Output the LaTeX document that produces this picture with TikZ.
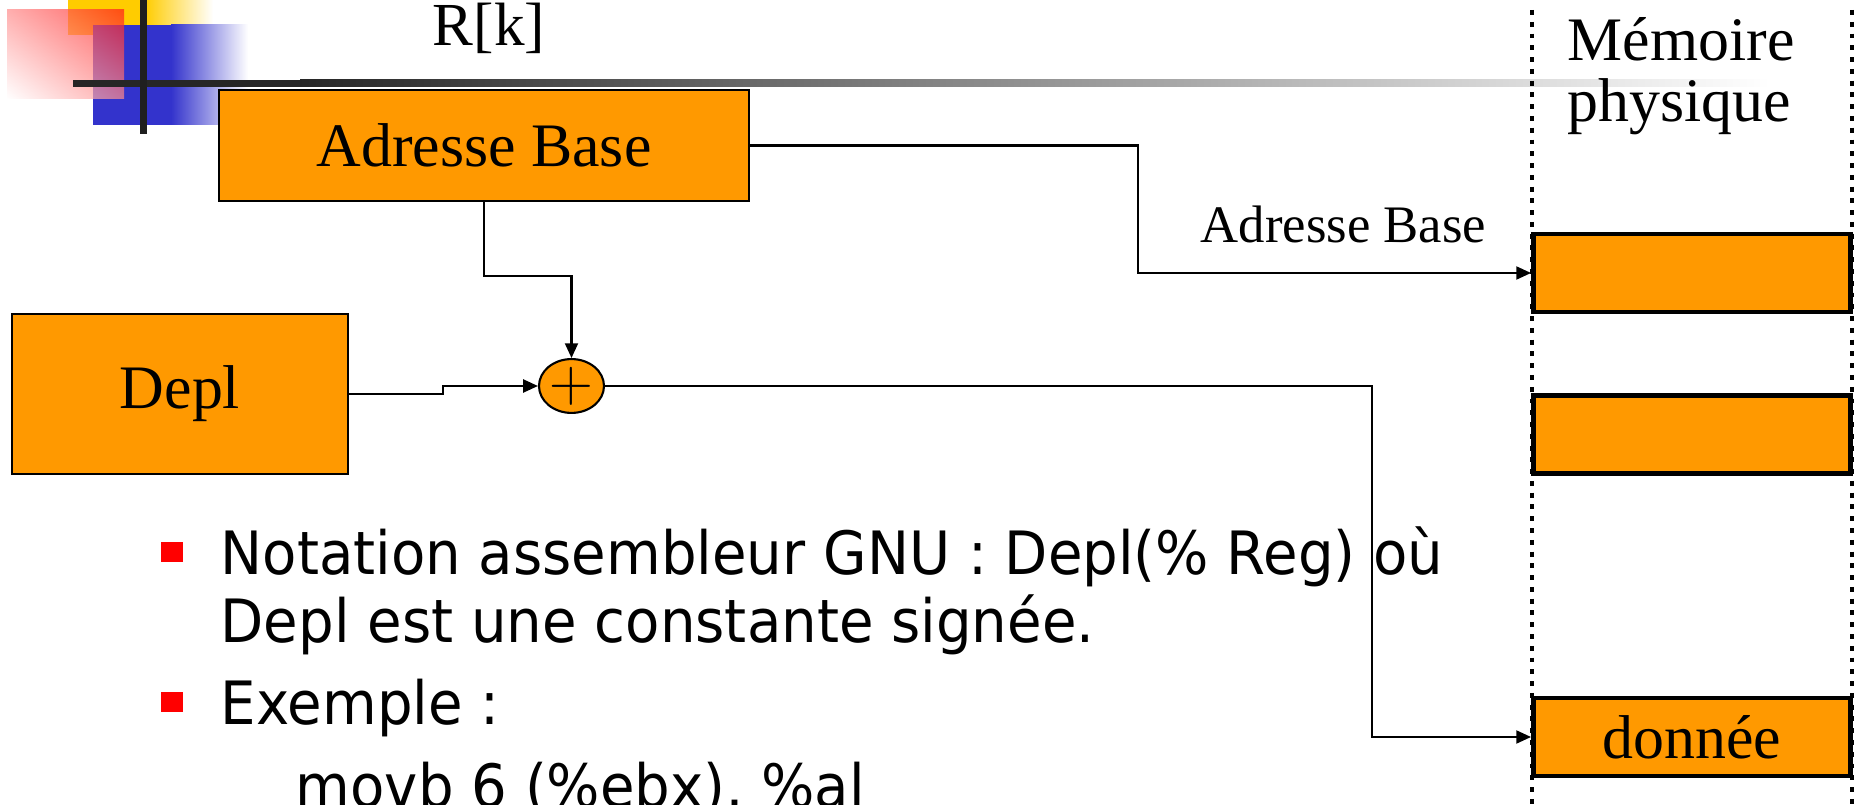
\documentclass[tikz,border=0pt]{standalone}
\usepackage{fontspec}
\setmainfont{Liberation Serif}
\newfontfamily\slidefont[FakeStretch=0.94]{DejaVu Sans}
\usetikzlibrary{arrows.meta,shapes.geometric,shadings}
\definecolor{PixelOrange}{HTML}{FF9900}
\definecolor{PixelBlue}{HTML}{3333CC}
\definecolor{PixelYellow}{HTML}{FFCC00}
\definecolor{PixelRed}{HTML}{FF1A1A}

\begin{document}
\begin{tikzpicture}[>={Triangle[length=4.2pt,width=3.7pt]},
    regbox/.style={draw, line width=0.8pt, fill=PixelOrange, inner sep=0pt,
        font=\fontsize{17.6}{17.6}\selectfont},
    membox/.style={draw, line width=1.4pt, fill=PixelOrange, inner sep=0pt,
        minimum width=3.17cm, minimum height=0.78cm, font=\fontsize{17.6}{17.6}\selectfont},
    memdots/.style={line width=1.4pt, dash pattern=on 1.4pt off 1.95pt},
    link/.style={->, line width=0.6pt},
    bulletsq/.style={fill=red, inner sep=0pt, minimum width=0.22cm, minimum height=0.20cm},
    bullettext/.style={anchor=base west, inner sep=0pt, font=\slidefont\fontsize{17}{17}\selectfont}]

    \useasboundingbox (0,0) rectangle (18.58,8.05);
    \clip (0,0) rectangle (18.58,8.05);

    % ========== SLIDE DECORATION ==========
    \fill[PixelYellow] (0.68,7.70) rectangle (1.45,8.05);
    \shade[left color=PixelYellow, right color=white] (1.45,7.70) rectangle (2.13,8.05);
    \fill[PixelBlue] (0.93,6.80) rectangle (1.71,7.80);
    \shade[left color=PixelBlue, right color=white] (1.71,6.80) rectangle (2.48,7.80);
    \shade[fill opacity=0.7, upper left=PixelRed!50!white, upper right=PixelRed,
        lower left=white, lower right=PixelRed!50!white] (0.07,7.06) rectangle (1.24,7.95);
    \fill[black!85] (0.73,7.18) rectangle (3.0,7.25);
    \shade[left color=black!85, right color=white] (3.0,7.18) rectangle (17.7,7.25);
    \fill[black!88] (1.40,6.71) rectangle (1.47,8.05);

    \node[anchor=base, inner sep=0pt, font=\fontsize{17.4}{17.4}\selectfont] (regk) at (4.89,7.59) {R[k]};

    % ========== PHYSICAL MEMORY ==========
    \draw[memdots] (15.32,7.95) -- (15.32,0);
    \draw[memdots] (18.52,7.95) -- (18.52,0);
    \node[anchor=base west, align=left, inner sep=0pt, font=\fontsize{17.6}{17.6}\selectfont]
        (memtitle) at (15.67,6.83) {Mémoire\\physique};

    \node[membox] (mem1) at (16.92,5.32) {};
    \node[membox] (mem2) at (16.92,3.705) {};
    \node[membox] (data) at (16.92,0.68) {donnée};

    % ========== ADDRESS COMPUTATION ==========
    \node[regbox, minimum width=5.30cm, minimum height=1.11cm] (base) at (4.84,6.595) {Adresse Base};
    \node[regbox, minimum width=3.36cm, minimum height=1.60cm] (depl) at (1.80,4.11) {Depl};
    \node[draw, ellipse, fill=PixelOrange, line width=0.6pt, inner sep=0pt,
        minimum width=0.65cm, minimum height=0.48cm] (plus) at (5.715,4.19)
        {\fontsize{16.5}{16.5}\selectfont$+$};

    % Connectors
    \coordinate (turnA) at (11.38,5.32);
    \coordinate (turnB) at (13.72,0.68);
    \coordinate (joinB) at (4.84,5.29);
    \coordinate (stepD) at (4.43,4.11);
    \draw[link] (base.east) -| (turnA) -- (mem1.west);
    \draw[link] (base.south) -- (joinB) -| (plus.north);
    \draw[link] (depl.east) -- (stepD) |- (plus.west);
    \draw[link] (plus.east) -| (turnB) -- (data.west);
    \node[anchor=base, inner sep=0pt, font=\fontsize{15}{15}\selectfont] (baselbl) at (13.435,5.62) {Adresse Base};

    % ========== BULLETS ==========
    \node[bulletsq] (dot1) at (1.72,2.53) {};
    \node[bulletsq] (dot2) at (1.72,1.03) {};
    \node[bullettext] (line1) at (2.20,2.30) {Notation assembleur GNU : Depl(\% Reg) où};
    \node[bullettext] (line2) at (2.20,1.62) {Depl est une constante signée.};
    \node[bullettext] (line3) at (2.20,0.80) {Exemple :};
    \node[bullettext] (line4) at (2.95,-0.03) {movb 6 (\%ebx), \%al};

\end{tikzpicture}
\end{document}
